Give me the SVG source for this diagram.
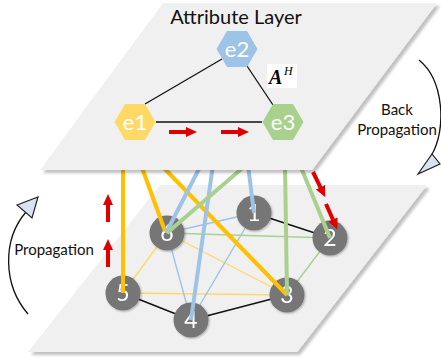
<svg xmlns="http://www.w3.org/2000/svg" width="441" height="360" viewBox="0 0 441 360">
  <style>
    .plane { fill: #f0f0f0; }
    .thin { fill: none; stroke-width: 1.4; }
    .thick { fill: none; stroke-width: 4; stroke-linecap: butt; }
    .blk { stroke: #111; }
    .y1 { stroke: #ffd966; }
    .b1 { stroke: #9dc3e6; }
    .g1 { stroke: #a9d18e; }
    .y2 { stroke: #ffc000; }
    .node circle { fill: #767676; }
    .node text { fill: #fff; font-family: Lato, "Open Sans", sans-serif; font-size: 23px; text-anchor: middle; }
    .hex text { fill: #fff; font-family: Lato, "Open Sans", sans-serif; font-size: 22px; text-anchor: middle; }
    .lbl { fill: #111; font-family: Lato, "Open Sans", sans-serif; }
    .red { fill: #e00000; }
    .edge { fill: none; stroke: #111; stroke-width: 1.3; }
  </style>
  <defs>
    <filter id="planeShadow" x="-10%" y="-10%" width="125%" height="130%">
      <feGaussianBlur in="SourceAlpha" stdDeviation="1.6"/>
      <feOffset dx="3" dy="3" result="b"/>
      <feComponentTransfer><feFuncA type="linear" slope="0.25"/></feComponentTransfer>
      <feMerge><feMergeNode/><feMergeNode in="SourceGraphic"/></feMerge>
    </filter>
    <filter id="soft" x="-30%" y="-30%" width="160%" height="160%">
      <feGaussianBlur in="SourceAlpha" stdDeviation="1.2"/>
      <feOffset dx="1" dy="1"/>
      <feComponentTransfer><feFuncA type="linear" slope="0.3"/></feComponentTransfer>
      <feMerge><feMergeNode/><feMergeNode in="SourceGraphic"/></feMerge>
    </filter>
    <path id="arrow" class="red" d="M0,-2 L17,-2 L17,-5 L28,0 L17,5 L17,2 L0,2 Z"/>
  </defs>

  <!-- lower (node) plane -->
  <polygon id="nodePlane" class="plane" filter="url(#planeShadow)" points="160,185 427,185 297,352 28,352"/>

  <!-- edges inside the node plane -->
  <g id="graphEdges">
    <line class="thin y1" x1="167" y1="233" x2="123" y2="293"/>
    <line class="thin y1" x1="167" y1="233" x2="287" y2="295"/>
    <line class="thin y1" x1="123" y1="293" x2="287" y2="295"/>
    <line class="thin b1" x1="167" y1="233" x2="254" y2="213"/>
    <line class="thin b1" x1="167" y1="233" x2="191" y2="320"/>
    <line class="thin b1" x1="254" y1="213" x2="191" y2="320"/>
    <line class="thin g1" x1="167" y1="233" x2="330" y2="238"/>
    <line class="thin g1" x1="287" y1="295" x2="330" y2="238"/>
    <line class="thin blk" x1="254" y1="213" x2="330" y2="238"/>
    <line class="thin blk" x1="123" y1="293" x2="191" y2="320"/>
    <line class="thin blk" x1="191" y1="320" x2="287" y2="295"/>
  </g>

  <!-- graph nodes -->
  <g id="n1" class="node" filter="url(#soft)"><circle cx="254" cy="213" r="17.5"/><text x="254" y="221">1</text></g>
  <g id="n2" class="node" filter="url(#soft)"><circle cx="330" cy="238" r="17.5"/><text x="330" y="246">2</text></g>
  <g id="n3" class="node" filter="url(#soft)"><circle cx="287" cy="295" r="17.5"/><text x="287" y="303">3</text></g>
  <g id="n4" class="node" filter="url(#soft)"><circle cx="191" cy="320" r="17.5"/><text x="191" y="328">4</text></g>
  <g id="n5" class="node" filter="url(#soft)"><circle cx="123" cy="293" r="17.5"/><text x="123" y="301">5</text></g>
  <g id="n6" class="node" filter="url(#soft)"><circle cx="167" cy="233" r="17.5"/><text x="167" y="241">6</text></g>

  <!-- links from attributes down to nodes -->
  <g id="connectors">
    <line class="thick y2" x1="123" y1="165" x2="123" y2="293"/>
    <line class="thick y2" x1="141" y1="165" x2="165" y2="231"/>
    <line class="thick y2" x1="161" y1="165" x2="287" y2="295"/>
    <line class="thick b1" x1="201" y1="165" x2="166" y2="233"/>
    <line class="thick b1" x1="213" y1="165" x2="191" y2="320"/>
    <line class="thick g1" x1="246" y1="165" x2="167" y2="233"/>
    <line class="thick b1" x1="248" y1="165" x2="254" y2="213"/>
    <line class="thick g1" x1="285" y1="165" x2="287" y2="295"/>
    <line class="thick g1" x1="300" y1="165" x2="330" y2="238"/>
  </g>

  <!-- upper (attribute) plane -->
  <polygon id="attrPlane" class="plane" filter="url(#planeShadow)" points="163,3 437,3 312,170 40,170"/>
  <text class="lbl" x="236" y="24" font-size="20" text-anchor="middle">Attribute Layer</text>

  <!-- attribute edges -->
  <g id="attrEdges">
    <line class="edge" x1="145" y1="104" x2="222" y2="59"/>
    <line class="edge" x1="247" y1="66" x2="273" y2="105"/>
    <line class="edge" x1="156" y1="122" x2="262" y2="122"/>
  </g>

  <!-- adjacency label -->
  <g id="adjLabel">
    <rect x="267" y="64" width="30" height="24" fill="#fff"/>
    <text x="269" y="84" font-family="'Liberation Serif', serif" font-size="20" font-weight="bold" font-style="italic" fill="#000">A</text>
    <text x="284" y="75" font-family="'Liberation Serif', serif" font-size="12" font-style="italic" fill="#000">H</text>
  </g>

  <!-- attribute nodes -->
  <g id="e1" class="hex"><polygon fill="#ffd966" points="114.5,122 125,104 145,104 155.5,122 145,140 125,140"/><text x="135" y="130">e1</text></g>
  <g id="e2" class="hex"><polygon fill="#9dc3e6" points="216.5,49 227,31 247,31 257.5,49 247,67 227,67"/><text x="237" y="57">e2</text></g>
  <g id="e3" class="hex"><polygon fill="#a9d18e" points="262.5,122 273,104 293,104 303.5,122 293,140 273,140"/><text x="283" y="130">e3</text></g>

  <!-- flow arrows -->
  <g id="flowArrows">
    <use href="#arrow" transform="translate(169,132)"/>
    <use href="#arrow" transform="translate(221,132)"/>
    <use href="#arrow" transform="translate(108,222) rotate(-90)"/>
    <use href="#arrow" transform="translate(108,267) rotate(-90)"/>
    <use href="#arrow" transform="translate(313,172) rotate(64)"/>
    <use href="#arrow" transform="translate(326,204) rotate(66)"/>
  </g>

  <!-- propagation cycle -->
  <g id="backProp">
    <path d="M419,60 C444,80 447,130 431,156" fill="none" stroke="#111" stroke-width="1.3"/>
    <polygon points="418,174 432,154 440,164" fill="#dae3f3" stroke="#222" stroke-width="1.2"/>
    <text class="lbl" x="397" y="115" font-size="15" text-anchor="middle">Back</text>
    <text class="lbl" x="397" y="135" font-size="15" text-anchor="middle">Propagation</text>
  </g>
  <g id="prop">
    <path d="M28,314 C3,285 2,240 26,212" fill="none" stroke="#111" stroke-width="1.3"/>
    <polygon points="17,205 38,197 32,218" fill="#dae3f3" stroke="#222" stroke-width="1.2"/>
    <text class="lbl" x="54" y="255" font-size="15" text-anchor="middle">Propagation</text>
  </g>
</svg>
